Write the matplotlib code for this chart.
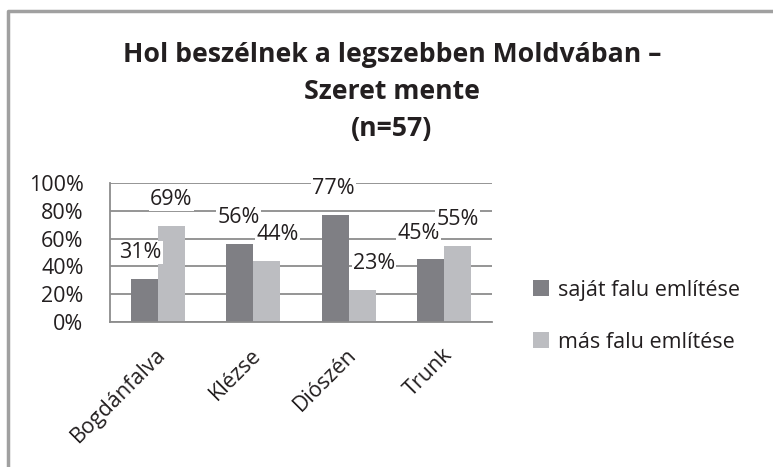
import matplotlib.pyplot as plt
from matplotlib.lines import Line2D
from matplotlib.transforms import ScaledTranslation
import numpy as np

plt.rcParams['font.family'] = ['Open Sans', 'DejaVu Sans']

# adatok
villages = ["Bogdánfalva", "Klézse", "Diószén", "Trunk"]
sajat = [31, 56, 77, 45]
mas = [69, 44, 23, 55]
series_names = ["saját falu említése", "más falu említése"]
title_lines = ["Hol beszélnek a legszebben Moldvában –", "Szeret mente", "(n=57)"]

# kézzel eltolt címkék (pixel)
dx_sajat = [-4, -1, -2, -12]
dx_mas = [0, 11, 12, 0]

dark = "#7f7f84"
light = "#bcbdc1"
txt = "#231f20"
fs = 15.5

fig = plt.figure(figsize=(7.73, 4.67), dpi=100)
W, H = 773, 467
ax = fig.add_axes([110 / W, 1 - 322 / H, (492 - 110) / W, (322 - 183) / H])

x = np.arange(len(villages))
bw = 0.283
ax.bar(x - bw / 2, np.array(sajat) / 100, bw, color=dark, zorder=2, label=series_names[0])
ax.bar(x + bw / 2, np.array(mas) / 100, bw, color=light, zorder=2, label=series_names[1])

ax.set_xlim(-0.5, len(villages) - 0.5)
ax.set_ylim(0, 1)
ax.set_yticks(np.arange(0, 1.01, 0.2))
ax.set_yticklabels([f"{int(round(v * 100))}%" for v in np.arange(0, 1.01, 0.2)])
ax.yaxis.grid(True, color="#8c8c8c", linewidth=1.3, zorder=0)
ax.set_axisbelow(True)
for s in ["top", "right"]:
    ax.spines[s].set_visible(False)
for s in ["left", "bottom"]:
    ax.spines[s].set_color("#8c8c8c")
    ax.spines[s].set_linewidth(1.3)
ax.tick_params(axis="y", length=0, pad=19, labelsize=fs, labelcolor=txt)
ax.tick_params(axis="x", length=0, labelsize=fs, labelcolor=txt)
ax.set_xticks(x)
ax.set_xticklabels(villages, rotation=45, ha="right", va="center",
                   rotation_mode="anchor")
for lab in ax.get_xticklabels():
    lab.set_transform(lab.get_transform() + ScaledTranslation(5 / 100, -25 / 100, fig.dpi_scale_trans))

# adatcímkék
for vals, off, dxs in [(sajat, -bw / 2, dx_sajat), (mas, bw / 2, dx_mas)]:
    for i, v in enumerate(vals):
        ax.annotate(f"{v}%", (i + off, v / 100), xytext=(dxs[i] * 0.72, 19),
                    textcoords="offset points", ha="center", va="center",
                    fontsize=fs, color=txt, zorder=4,
                    bbox=dict(boxstyle="square,pad=0.05", fc="white", ec="none"))

# jelmagyarázat
leg = ax.legend(loc="upper left", bbox_to_anchor=(524 / W, 1 - 271 / H),
                bbox_transform=fig.transFigure, frameon=False, fontsize=fs,
                handlelength=0.75, handleheight=0.75, handletextpad=0.45,
                labelspacing=1.45, borderaxespad=0)
for t in leg.get_texts():
    t.set_color(txt)

# cím
for k, line in enumerate(title_lines):
    fig.text(392 / W, 1 - (62 + 37 * k) / H, line, ha="center", va="baseline",
             fontsize=19.2, fontweight="bold", color=txt)

# keret
fig.add_artist(Line2D([8 / W, 8 / W, 1.01], [-0.01, 1 - 11 / H, 1 - 11 / H],
                      transform=fig.transFigure, color="#a0a0a0", linewidth=2.5))

fig.savefig("out.png", dpi=100)
